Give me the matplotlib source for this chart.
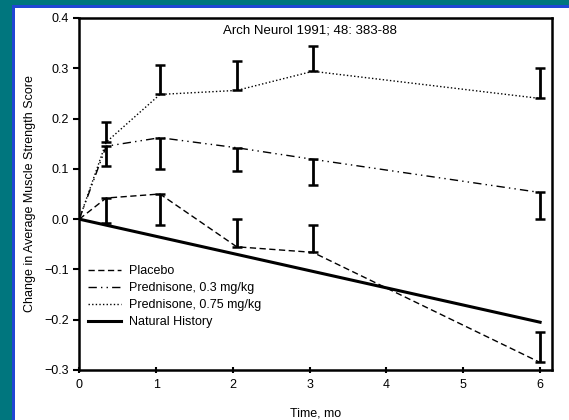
import numpy as np
import matplotlib.pyplot as plt
from matplotlib.patches import Rectangle

plt.rcParams['font.family'] = ['Liberation Sans', 'DejaVu Sans']

# Visit times (months) and mean change in muscle strength score
months = [0, 0.35, 1.05, 2.05, 3.04, 6.0]
placebo = [0, 0.042, 0.05, -0.055, -0.066, -0.285]
pred_03 = [0, 0.145, 0.162, 0.142, 0.119, 0.053]
pred_075 = [0, 0.153, 0.248, 0.256, 0.294, 0.240]

# Far end of each error bar (one-sided bars), for the visits after baseline
placebo_end = [-0.007, -0.012, 0.0, -0.012, -0.225]
pred_03_end = [0.105, 0.10, 0.096, 0.068, 0.0]
pred_075_end = [0.193, 0.306, 0.314, 0.344, 0.301]

# Natural history reference line
nat_months = [0, 6.0]
nat_hist = [0, -0.205]

bg = '#00767e'
fig = plt.figure(figsize=(5.69, 4.20), dpi=100, facecolor=bg)
W, H = 569, 420

# slide frame: blue edge on the left and top, white panel behind the chart
frame = [
    ((12 / W, 0), 3 / W, 1 - 5 / H, '#2146d4'),
    ((12 / W, 1 - 8 / H), 1, 3 / H, '#2146d4'),
    ((15 / W, 0), 1, 1 - 8 / H, 'white'),
]
for xy, w, h, fc in frame:
    fig.patches.append(Rectangle(xy, w, h, transform=fig.transFigure,
                                 facecolor=fc, edgecolor='none', zorder=-5))

ax = fig.add_axes([79.3 / W, 1 - 370 / H, (552 - 79.3) / W, (370 - 18) / H])
ax.set_facecolor('none')

styles = {
    'Placebo': (placebo, placebo_end, (0, (4.5, 2.5))),
    'Prednisone, 0.3 mg/kg': (pred_03, pred_03_end, (0, (6, 3, 1, 3, 1, 3))),
    'Prednisone, 0.75 mg/kg': (pred_075, pred_075_end, (0, (1, 1.6))),
}

for label, (vals, ends, ls) in styles.items():
    ax.plot(months, vals, color='black', lw=1.0, linestyle=ls, label=label)
    x = np.array(months[1:])
    y = np.array(vals[1:])
    e = np.array(ends)
    lo = np.where(e < y, y - e, 0)
    hi = np.where(e > y, e - y, 0)
    ax.errorbar(x, y, yerr=[lo, hi], fmt='none', ecolor='black',
                elinewidth=2.0, capsize=3.5, capthick=1.8)

ax.plot(nat_months, nat_hist, color='black', lw=2.2, label='Natural History')

ax.set_xlim(0, 6.155)
ax.set_ylim(-0.3, 0.4)
ax.set_xticks(range(7))
ax.set_yticks([-0.3, -0.2, -0.1, 0.0, 0.1, 0.2, 0.3, 0.4])
ax.set_yticklabels(['\u22120.3', '\u22120.2', '\u22120.1', '0.0', '0.1', '0.2', '0.3', '0.4'])
for s in ax.spines.values():
    s.set_linewidth(1.8)
ax.tick_params(axis='y', direction='out', length=4, width=1.5, labelsize=9)
ax.tick_params(axis='x', direction='inout', length=5, width=1.5, labelsize=9, pad=4)

ax.set_xlabel('Time, mo', fontsize=9, labelpad=12)
ax.set_ylabel('Change in Average Muscle Strength Score', fontsize=9, labelpad=6)

ax.text(3.0, 0.375, 'Arch Neurol 1991; 48: 383-88', ha='center', va='center', fontsize=9.5)

ax.legend(loc='upper left', bbox_to_anchor=(0.0, 0.322), frameon=False, fontsize=9,
          handlelength=2.6, handletextpad=0.7, labelspacing=0.4, borderaxespad=0.3)

fig.savefig('out.png', dpi=100, facecolor=bg)
